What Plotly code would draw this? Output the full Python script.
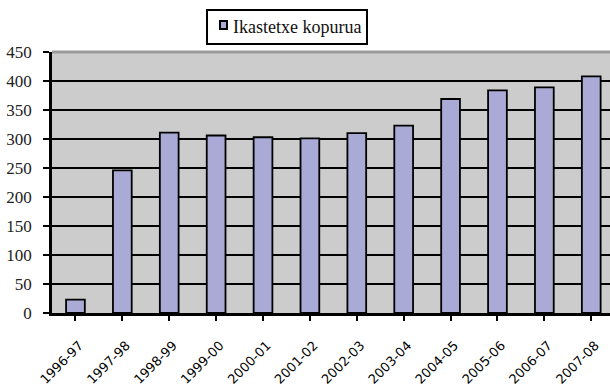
import plotly.graph_objects as go

# School years and number of schools per year
years = ["1996-97", "1997-98", "1998-99", "1999-00", "2000-01", "2001-02",
         "2002-03", "2003-04", "2004-05", "2005-06", "2006-07", "2007-08"]
schools = [23, 246, 311, 306, 303, 301, 310, 323, 369, 384, 389, 408]
y_ticks = [0, 50, 100, 150, 200, 250, 300, 350, 400, 450]
series_name = "Ikastetxe kopurua"

SERIF = "Liberation Serif"
SANS = "DejaVu Sans"
BAR_COLOR = "#aaaad6"

fig = go.Figure()
fig.add_trace(go.Bar(
    x=list(range(len(years))),
    y=schools,
    name=series_name,
    width=0.4,
    marker=dict(color=BAR_COLOR, line=dict(color="#000000", width=1.8)),
    showlegend=False,
))

fig.update_layout(
    width=610,
    height=386,
    margin=dict(l=52, r=0, t=52, b=73),
    paper_bgcolor="white",
    plot_bgcolor="#cccccc",
    font=dict(family=SERIF, color="#222222"),
)

fig.update_xaxes(
    range=[-0.5, 11.4],
    automargin=False,
    tickmode="array",
    tickvals=list(range(len(years))),
    ticktext=years,
    tickangle=-45,
    tickson="boundaries",
    ticks="outside",
    ticklen=5,
    tickwidth=2,
    tickcolor="#000000",
    ticklabelstandoff=12,
    ticklabelshift=4,
    showline=True,
    linecolor="#000000",
    linewidth=2.5,
    showgrid=False,
    zeroline=False,
    tickfont=dict(family=SANS, size=13, color="#000000"),
)

fig.update_yaxes(
    range=[0, 450],
    automargin=False,
    tickmode="array",
    tickvals=y_ticks,
    ticks="outside",
    ticklen=6,
    tickwidth=2,
    tickcolor="#000000",
    ticklabelstandoff=8,
    showline=True,
    linecolor="#000000",
    linewidth=2.5,
    showgrid=True,
    gridcolor="#000000",
    gridwidth=2,
    zeroline=False,
    tickfont=dict(family=SERIF, size=17, color="#222222"),
)

# gray border along the top of the plot area
fig.add_shape(type="line", xref="paper", yref="paper",
              x0=0, x1=1, y0=1, y1=1,
              line=dict(color="#999999", width=3))

# legend box: frame, colour key and series name
fig.add_shape(type="rect", xref="paper", yref="paper",
              x0=0.2778, x1=0.5645, y0=1.031, y1=1.161,
              line=dict(color="#000000", width=2), fillcolor="white")
fig.add_shape(type="rect", xref="paper", yref="paper",
              x0=0.3011, x1=0.3136, y0=1.088, y1=1.119,
              line=dict(color="#000000", width=2), fillcolor=BAR_COLOR)
fig.add_annotation(xref="paper", yref="paper", x=0.320, y=1.096,
                   xanchor="left", yanchor="middle", showarrow=False,
                   text=series_name,
                   font=dict(family=SERIF, size=18, color="#111111"))

fig.write_html("out.html")
